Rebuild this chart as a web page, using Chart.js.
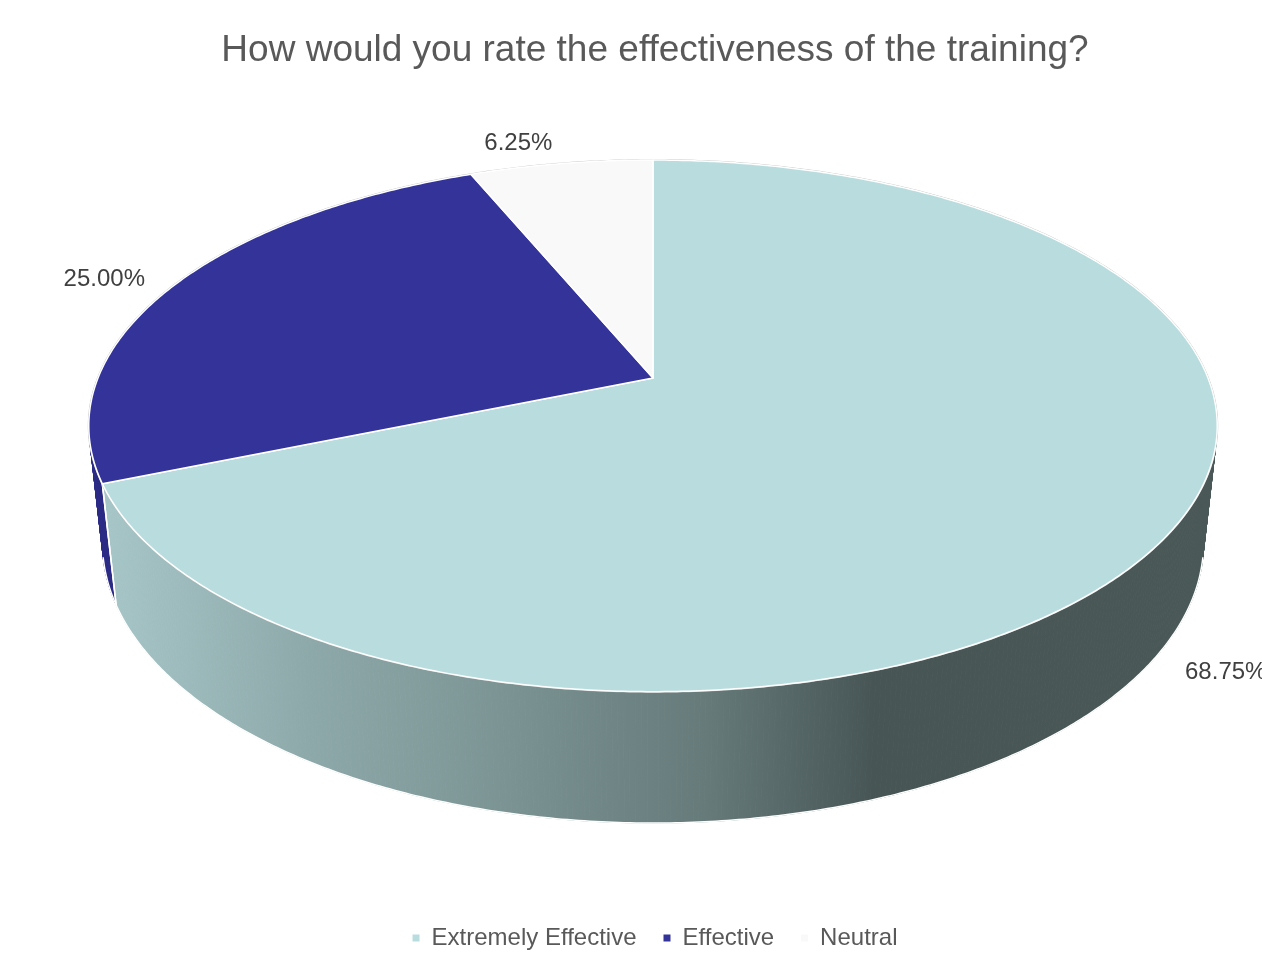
<!DOCTYPE html>
<html>
<head>
<meta charset="utf-8">
<script src="https://cdn.jsdelivr.net/npm/chart.js@4.4.1/dist/chart.umd.min.js"></script>
<style>
html,body{margin:0;padding:0;background:#ffffff;}
#wrap{width:1262px;height:954px;position:relative;}
</style>
</head>
<body>
<div id="wrap"><canvas id="c"></canvas></div>
<script>
// ---- data ----
const categories = ['Extremely Effective', 'Effective', 'Neutral'];
const percentages = [68.75, 25.00, 6.25];
const topColors = ['#B9DDDF', '#333399', '#F9F9F9'];
const chartTitle = 'How would you rate the effectiveness of the training?';

// ---- 3D perspective look (styling only) ----
const FONT = '"Liberation Sans", Arial, sans-serif';
const P = { cx: 653, cy: 378, A: 257.2, B: 555, K: -0.18, C: 0.024, E: 118.4 };

function proj(theta, r, bottom) {
  const u = r * Math.sin(theta), v = -r * Math.cos(theta);
  if (!bottom) {
    const d = 1 + P.K * v;
    return { x: P.cx + P.B * u / d, y: P.cy + P.A * v / d };
  }
  const d = 1 + P.C + P.K * v;
  return { x: P.cx + P.B * u / d, y: P.cy + (P.A * v + P.E) / d };
}

const pie3d = {
  id: 'pie3d',
  beforeDatasetsDraw(chart) {
    const ctx = chart.ctx;
    const meta = chart.getDatasetMeta(0);
    const els = meta.data;
    ctx.save();

    // wall styles
    const g = ctx.createLinearGradient(P.cx - P.B + 10, 0, P.cx + P.B + 10, 0);
    g.addColorStop(0.00, '#a6c5c7');
    g.addColorStop(0.18, '#8ea9aa');
    g.addColorStop(0.36, '#7b9393');
    g.addColorStop(0.54, '#667a7a');
    g.addColorStop(0.69, '#475555');
    g.addColorStop(1.00, '#4a5858');
    const wallStyles = [g, '#2b2b85', '#d9d9d9'];

    const slices = els.map((el, i) => ({
      i,
      a0: el.startAngle + Math.PI / 2,
      a1: el.endAngle + Math.PI / 2
    }));

    // side walls: thin strips, painted back to front
    const step = 0.5 * Math.PI / 180;
    const strips = [];
    slices.forEach(s => {
      const n = Math.max(2, Math.ceil((s.a1 - s.a0) / step));
      for (let k = 0; k < n; k++) {
        const t0 = s.a0 + (s.a1 - s.a0) * k / n;
        const t1 = s.a0 + (s.a1 - s.a0) * (k + 1) / n;
        strips.push({ i: s.i, t0, t1, v: -Math.cos((t0 + t1) / 2) });
      }
    });
    strips.sort((a, b) => a.v - b.v);
    ctx.lineWidth = 1;
    strips.forEach(s => {
      const p1 = proj(s.t0, 1, false), p2 = proj(s.t1, 1, false);
      const p3 = proj(s.t1, 1, true), p4 = proj(s.t0, 1, true);
      ctx.beginPath();
      ctx.moveTo(p1.x, p1.y); ctx.lineTo(p2.x, p2.y);
      ctx.lineTo(p3.x, p3.y); ctx.lineTo(p4.x, p4.y);
      ctx.closePath();
      ctx.fillStyle = wallStyles[s.i];
      ctx.strokeStyle = wallStyles[s.i];
      ctx.fill(); ctx.stroke();
    });

    // white edges on the visible wall
    ctx.strokeStyle = '#ffffff';
    ctx.lineWidth = 1.5;
    ctx.beginPath();
    let started = false;
    for (let t = 0; t <= Math.PI * 2 + 1e-9; t += step) {
      const v = -Math.cos(t);
      if (v > 0.22) {
        const p = proj(t, 1, true);
        if (!started) { ctx.moveTo(p.x, p.y); started = true; } else ctx.lineTo(p.x, p.y);
      } else started = false;
    }
    ctx.stroke();
    slices.forEach(s => {
      [s.a0, s.a1].forEach(t => {
        if (-Math.cos(t) > 0.15) {
          const a = proj(t, 1, false), b = proj(t, 1, true);
          ctx.beginPath(); ctx.moveTo(a.x, a.y); ctx.lineTo(b.x, b.y); ctx.stroke();
        }
      });
    });

    // faint rim
    ctx.strokeStyle = '#c4c4c4';
    ctx.lineWidth = 2;
    ctx.beginPath();
    for (let k = 0; k <= 720; k++) {
      const p = proj(k / 720 * Math.PI * 2, 1, false);
      if (k === 0) ctx.moveTo(p.x, p.y); else ctx.lineTo(p.x, p.y);
    }
    ctx.stroke();

    // top faces
    ctx.lineJoin = 'round';
    slices.forEach(s => {
      const n = Math.max(2, Math.ceil((s.a1 - s.a0) / step));
      ctx.beginPath();
      ctx.moveTo(P.cx, P.cy);
      for (let k = 0; k <= n; k++) {
        const p = proj(s.a0 + (s.a1 - s.a0) * k / n, 1, false);
        ctx.lineTo(p.x, p.y);
      }
      ctx.closePath();
      ctx.fillStyle = topColors[s.i];
      ctx.fill();
      ctx.strokeStyle = '#ffffff';
      ctx.lineWidth = 1.5;
      ctx.stroke();
    });

    // data labels
    ctx.font = '24px ' + FONT;
    ctx.fillStyle = '#404040';
    ctx.textAlign = 'center';
    ctx.textBaseline = 'middle';
    slices.forEach(s => {
      const mid = (s.a0 + s.a1) / 2;
      const v = -Math.cos(mid), u = Math.sin(mid);
      const txt = percentages[s.i].toFixed(2) + '%';
      const w = ctx.measureText(txt).width;
      let x, y;
      if (v < 0) {
        const p = proj(mid, 1.12, false);
        x = p.x + Math.sign(u) * Math.abs(v) * w / 2;
        y = p.y + 4 * Math.abs(u);
      } else {
        const pt = proj(mid, 1.12, false), pb = proj(mid, 1.12, true);
        x = pb.x + 6 * Math.sign(u);
        y = pb.y + (pt.y - pb.y) * 0.09;
      }
      ctx.fillText(txt, x, y);
    });

    ctx.restore();
    return false;
  }
};

new Chart(document.getElementById('c'), {
  type: 'pie',
  data: {
    labels: categories,
    datasets: [{
      data: percentages,
      backgroundColor: topColors,
      borderColor: '#ffffff',
      borderWidth: 1.5
    }]
  },
  options: {
    responsive: true,
    maintainAspectRatio: false,
    animation: false,
    layout: { padding: { left: 48, right: 0, top: 0, bottom: -6 } },
    plugins: {
      title: {
        display: true,
        text: chartTitle,
        color: '#595959',
        font: { size: 37, weight: 'normal', family: FONT },
        padding: { top: 29, bottom: 10 }
      },
      legend: {
        position: 'bottom',
        labels: {
          color: '#595959',
          font: { size: 24, family: FONT },
          boxWidth: 7,
          boxHeight: 7,
          padding: 27,
          generateLabels: () => categories.map((c, i) => ({
            text: c, fillStyle: topColors[i], strokeStyle: topColors[i],
            lineWidth: 0, hidden: false, index: i, fontColor: '#595959'
          }))
        }
      },
      tooltip: { enabled: false }
    }
  },
  plugins: [pie3d]
});
</script>
</body>
</html>
